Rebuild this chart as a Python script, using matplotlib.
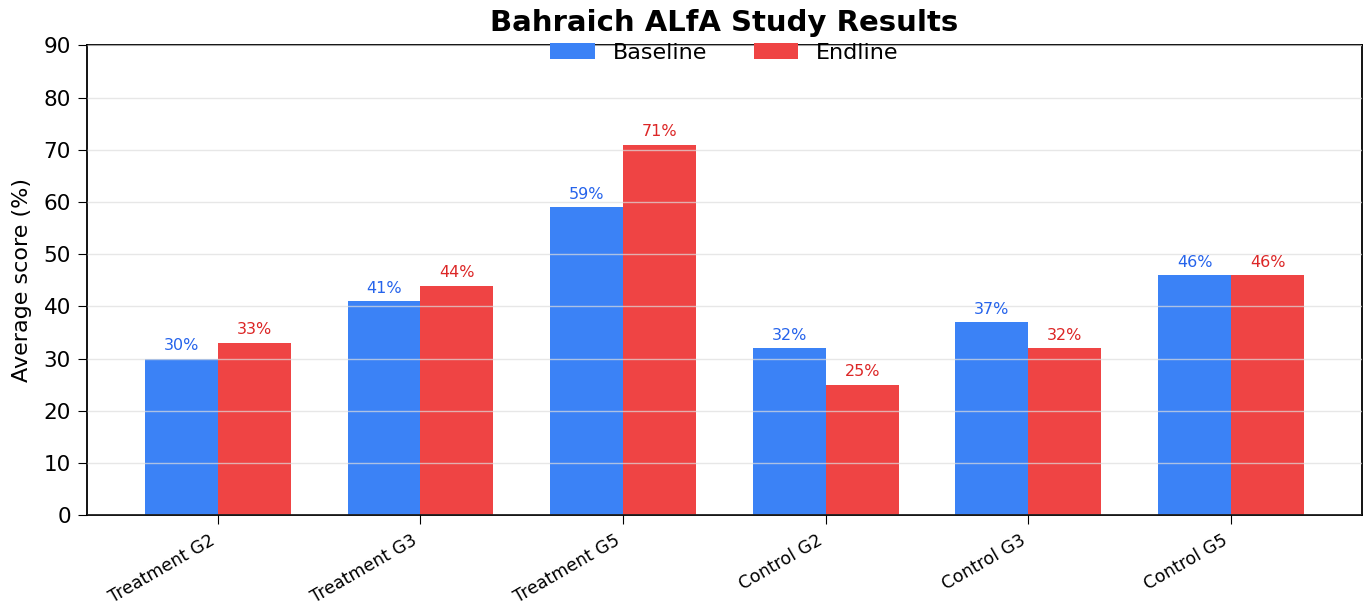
import matplotlib
matplotlib.use("Agg")
import matplotlib.pyplot as plt
import numpy as np

categories = ["Treatment G2", "Treatment G3", "Treatment G5", "Control G2", "Control G3", "Control G5"]
baseline = [30, 41, 59, 32, 37, 46]
endline = [33, 44, 71, 25, 32, 46]
yticks = [0, 10, 20, 30, 40, 50, 60, 70, 80, 90]

fig = plt.figure(figsize=(13.67, 6.12), dpi=100)
ax = fig.add_axes([0.0636, 0.158, 0.9327, 0.768])

x = np.arange(len(categories))
w = 0.36
b1 = ax.bar(x - w / 2, baseline, w, color="#3B82F6", label="Baseline", zorder=2)
b2 = ax.bar(x + w / 2, endline, w, color="#EF4444", label="Endline", zorder=2)

for rect, v in zip(b1, baseline):
    ax.annotate(f"{v}%", (rect.get_x() + rect.get_width() / 2, v), xytext=(0, 4),
                textcoords="offset points", ha="center", va="bottom", fontsize=11.5, color="#2563EB")
for rect, v in zip(b2, endline):
    ax.annotate(f"{v}%", (rect.get_x() + rect.get_width() / 2, v), xytext=(0, 4),
                textcoords="offset points", ha="center", va="bottom", fontsize=11.5, color="#DC2626")

ax.set_ylim(0, 90)
ax.set_yticks(yticks)
ax.set_xticks(x)
ax.set_xticklabels(categories, rotation=30, ha="right", fontsize=12.5)
ax.tick_params(axis="y", labelsize=15.5, length=6.5, pad=5)
ax.tick_params(axis="x", length=6.5, pad=5)
ax.set_ylabel("Average score (%)", fontsize=16, labelpad=8)
ax.set_title("Bahraich ALfA Study Results", fontsize=21, fontweight="bold", pad=10)
ax.yaxis.grid(True, color="#dddddd", linewidth=1, alpha=0.7, zorder=3)
ax.set_axisbelow(False)
for s in ax.spines.values():
    s.set_linewidth(1.3)

ax.legend(loc="upper center", bbox_to_anchor=(0.5, 1.048), ncol=2, frameon=False,
          fontsize=16, handlelength=2.0, handleheight=0.7, columnspacing=2.1)

fig.savefig("out.png", dpi=100)
